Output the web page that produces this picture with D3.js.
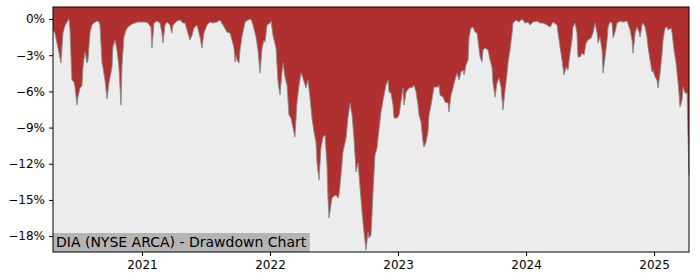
<!DOCTYPE html>
<html>
<head>
<meta charset="utf-8">
<script src="https://cdnjs.cloudflare.com/ajax/libs/d3/7.8.5/d3.min.js"></script>
<style>
  body { margin: 0; background: #fff; }
  .tick text { font-family: "DejaVu Sans", sans-serif; font-size: 12px; fill: #000; }
</style>
</head>
<body>
<div id="chart"></div>
<script>
// dates as decimal years, drawdown in percent
var years = [
  2020.305, 2020.320, 2020.336, 2020.344, 2020.352, 2020.367, 2020.383, 2020.398, 2020.414, 2020.430,
  2020.438, 2020.445, 2020.453, 2020.469, 2020.477, 2020.492, 2020.500, 2020.516, 2020.531, 2020.539,
  2020.555, 2020.563, 2020.570, 2020.578, 2020.594, 2020.609, 2020.625, 2020.648, 2020.664, 2020.672,
  2020.688, 2020.695, 2020.711, 2020.727, 2020.742, 2020.766, 2020.773, 2020.789, 2020.805, 2020.820,
  2020.836, 2020.844, 2020.859, 2020.875, 2020.891, 2020.922, 2020.945, 2020.969, 2021.000, 2021.023,
  2021.047, 2021.070, 2021.078, 2021.094, 2021.117, 2021.141, 2021.156, 2021.164, 2021.180, 2021.195,
  2021.219, 2021.234, 2021.242, 2021.273, 2021.297, 2021.320, 2021.336, 2021.359, 2021.375, 2021.391,
  2021.406, 2021.430, 2021.453, 2021.469, 2021.484, 2021.508, 2021.531, 2021.555, 2021.586, 2021.609,
  2021.633, 2021.664, 2021.688, 2021.703, 2021.719, 2021.727, 2021.734, 2021.742, 2021.758, 2021.766,
  2021.781, 2021.805, 2021.828, 2021.852, 2021.867, 2021.891, 2021.906, 2021.922, 2021.938, 2021.953,
  2021.961, 2021.977, 2022.000, 2022.008, 2022.023, 2022.047, 2022.063, 2022.078, 2022.094, 2022.102,
  2022.117, 2022.133, 2022.148, 2022.164, 2022.180, 2022.195, 2022.211, 2022.227, 2022.242, 2022.258,
  2022.281, 2022.297, 2022.313, 2022.328, 2022.344, 2022.359, 2022.367, 2022.383, 2022.398, 2022.414,
  2022.430, 2022.445, 2022.453, 2022.461, 2022.484, 2022.500, 2022.516, 2022.531, 2022.539, 2022.555,
  2022.570, 2022.594, 2022.609, 2022.625, 2022.641, 2022.656, 2022.672, 2022.688, 2022.703, 2022.719,
  2022.734, 2022.750, 2022.766, 2022.773, 2022.789, 2022.805, 2022.820, 2022.836, 2022.844, 2022.867,
  2022.891, 2022.906, 2022.922, 2022.930, 2022.945, 2022.961, 2022.969, 2022.992, 2023.008, 2023.023,
  2023.039, 2023.047, 2023.063, 2023.086, 2023.117, 2023.125, 2023.141, 2023.156, 2023.164, 2023.180,
  2023.195, 2023.203, 2023.219, 2023.234, 2023.242, 2023.258, 2023.281, 2023.313, 2023.320, 2023.328,
  2023.352, 2023.367, 2023.391, 2023.398, 2023.414, 2023.430, 2023.438, 2023.461, 2023.477, 2023.492,
  2023.508, 2023.516, 2023.531, 2023.547, 2023.555, 2023.570, 2023.586, 2023.602, 2023.617, 2023.641,
  2023.656, 2023.664, 2023.680, 2023.703, 2023.719, 2023.734, 2023.742, 2023.758, 2023.773, 2023.789,
  2023.805, 2023.813, 2023.820, 2023.836, 2023.852, 2023.859, 2023.875, 2023.891, 2023.898, 2023.922,
  2023.945, 2023.969, 2023.992, 2024.016, 2024.031, 2024.055, 2024.086, 2024.109, 2024.133, 2024.164,
  2024.188, 2024.211, 2024.242, 2024.250, 2024.266, 2024.281, 2024.297, 2024.313, 2024.328, 2024.344,
  2024.359, 2024.367, 2024.383, 2024.398, 2024.406, 2024.422, 2024.438, 2024.453, 2024.469, 2024.484,
  2024.508, 2024.523, 2024.539, 2024.555, 2024.563, 2024.578, 2024.594, 2024.602, 2024.617, 2024.633,
  2024.641, 2024.656, 2024.672, 2024.680, 2024.695, 2024.711, 2024.734, 2024.758, 2024.789, 2024.813,
  2024.828, 2024.836, 2024.852, 2024.867, 2024.883, 2024.891, 2024.906, 2024.914, 2024.930, 2024.945,
  2024.953, 2024.969, 2024.984, 2024.992, 2025.008, 2025.023, 2025.031, 2025.047, 2025.063, 2025.070,
  2025.086, 2025.102, 2025.109, 2025.133, 2025.141, 2025.156, 2025.172, 2025.188, 2025.203, 2025.219,
  2025.227, 2025.242, 2025.258, 2025.266, 2025.273
];
var drawdown = [
  -0.91, -1.16, -1.99, -2.40, -2.82, -3.65, -1.16, -0.58, -0.25, 0.00,
  -0.91, -3.00, -5.06, -5.22, -5.64, -7.13, -6.47, -5.72, -5.56, -3.98,
  -2.74, -3.15, -3.65, -3.40, -1.16, -0.50, -0.33, -0.17, -0.25, -0.50,
  -3.65, -3.98, -5.06, -6.63, -5.31, -3.98, -2.32, -1.74, -2.57, -3.98,
  -7.13, -3.81, -1.49, -0.91, -0.66, -0.41, -0.33, -0.25, -0.25, -0.25,
  -0.33, -0.66, -2.40, -0.33, -0.17, -0.33, -1.16, -1.99, -0.50, -0.25,
  -0.50, -1.16, -0.50, -0.17, -0.08, -0.33, -0.33, -1.16, -1.74, -1.33,
  -0.75, -0.50, -1.49, -2.40, -1.16, -0.50, -0.25, -0.33, -0.25, -0.08,
  -0.50, -1.08, -1.16, -1.74, -2.40, -3.57, -3.00, -3.40, -3.65, -2.57,
  -1.49, -0.25, -0.08, 0.00, -0.50, -1.49, -2.57, -4.48, -2.40, -1.74,
  -1.91, -0.50, -0.33, -0.17, -1.33, -2.40, -5.22, -6.30, -4.39, -3.65,
  -4.81, -5.47, -7.96, -8.21, -9.04, -9.78, -6.88, -5.47, -4.48, -4.89,
  -5.72, -5.06, -6.55, -8.21, -9.37, -10.20, -11.86, -13.35, -10.70, -9.78,
  -9.62, -12.11, -14.84, -16.50, -14.84, -14.68, -14.59, -14.84, -14.59, -12.94,
  -11.03, -9.87, -8.21, -6.97, -7.96, -9.87, -12.69, -11.94, -13.93, -16.00,
  -17.66, -19.15, -17.66, -18.16, -17.91, -14.34, -11.28, -10.70, -9.87, -7.71,
  -6.30, -5.47, -5.06, -6.05, -6.14, -7.13, -8.21, -8.21, -7.96, -6.88,
  -5.72, -7.13, -6.05, -5.72, -5.64, -5.47, -6.05, -7.13, -7.96, -8.54,
  -10.20, -10.61, -10.20, -9.37, -7.96, -7.13, -5.64, -5.64, -5.47, -6.30,
  -6.47, -6.88, -6.97, -7.71, -6.30, -5.72, -5.31, -4.48, -5.06, -4.39,
  -4.23, -4.64, -3.81, -3.40, -1.49, -0.75, -0.66, -1.08, -1.16, -3.15,
  -3.57, -2.57, -2.40, -2.57, -3.40, -3.98, -5.31, -6.47, -5.31, -4.89,
  -5.64, -6.72, -7.55, -5.89, -4.48, -3.65, -2.57, -1.16, -0.33, -0.08,
  -0.25, 0.00, -0.33, -0.25, -0.50, -0.25, -0.17, -0.33, -0.33, -0.50,
  -0.66, -0.25, -0.50, -1.16, -2.32, -3.40, -4.64, -3.98, -4.23, -2.82,
  -1.74, -0.66, -0.33, -1.16, -3.15, -3.15, -2.82, -2.99, -1.99, -1.74,
  -1.58, -1.16, -0.33, -1.16, -1.99, -1.49, -2.57, -4.48, -3.15, -1.74,
  -0.66, -0.25, -0.33, -1.58, -1.08, -0.33, -0.17, -0.25, -0.17, -0.91,
  -1.74, -2.82, -1.16, -0.66, -1.08, -1.49, -0.50, -0.33, -0.66, -1.49,
  -2.32, -3.40, -4.39, -4.23, -4.81, -5.06, -5.72, -4.48, -2.82, -1.74,
  -0.75, -0.66, -0.91, -0.75, -1.16, -2.57, -3.65, -5.31, -7.30, -6.72,
  -5.64, -6.14, -6.14, -10.03, -12.94
];
var yTicks = [0, -3, -6, -9, -12, -15, -18];
var xTicks = [2021, 2022, 2023, 2024, 2025];
var title = "DIA (NYSE ARCA) - Drawdown Chart";

var data = years.map(function (d, i) { return { t: d, v: drawdown[i] }; });

var margin = { top: 7, right: 11, bottom: 28, left: 53 },
    width = 700 - margin.left - margin.right,
    height = 280 - margin.top - margin.bottom;

var svg = d3.select("#chart")
    .append("svg")
    .attr("width", 700)
    .attr("height", 280)
    .append("g")
    .attr("transform", "translate(" + margin.left + "," + margin.top + ")");

var x = d3.scaleLinear()
    .domain([2020.305, 2025.273])
    .range([0, width]);

var y = d3.scaleLinear()
    .domain([-19.32, 1.0])
    .range([height, 0]);

// background
svg.append("rect")
    .attr("width", width)
    .attr("height", height)
    .style("fill", "#ececec");

// drawdown area, filled from the line up to the top of the plot
var area = d3.area()
    .x(function (d) { return x(d.t); })
    .y0(0)
    .y1(function (d) { return y(d.v); });

svg.append("path")
    .datum(data)
    .attr("d", area)
    .style("fill", "#b03030");

var line = d3.line()
    .x(function (d) { return x(d.t); })
    .y(function (d) { return y(d.v); });

svg.append("path")
    .datum(data)
    .attr("d", line)
    .style("fill", "none")
    .style("stroke", "#8a8a8a")
    .style("stroke-width", 0.9);

// axes
svg.append("g")
    .call(d3.axisLeft(y)
        .tickValues(yTicks)
        .tickSize(4)
        .tickPadding(4)
        .tickFormat(function (d) { return (d < 0 ? "\u2212" + Math.abs(d) : d) + "%"; }));

svg.append("g")
    .attr("transform", "translate(0," + height + ")")
    .call(d3.axisBottom(x)
        .tickValues(xTicks)
        .tickSize(4)
        .tickPadding(4)
        .tickFormat(d3.format("d")));

svg.selectAll(".domain").remove();
svg.selectAll(".tick line").style("stroke", "#000");

// label box
var label = svg.append("g");
var txt = label.append("text")
    .attr("x", 3)
    .attr("y", height - 5)
    .text(title)
    .style("font-family", "DejaVu Sans, sans-serif")
    .style("font-size", "14px")
    .style("fill", "#000");
var bb = txt.node().getBBox();
label.insert("rect", "text")
    .attr("x", 0)
    .attr("y", height - 19)
    .attr("width", bb.width + 6)
    .attr("height", 19)
    .style("fill", "#b4b4b4");

// frame
svg.append("rect")
    .attr("width", width)
    .attr("height", height)
    .style("fill", "none")
    .style("stroke", "#000")
    .style("stroke-width", 1);
</script>
</body>
</html>
